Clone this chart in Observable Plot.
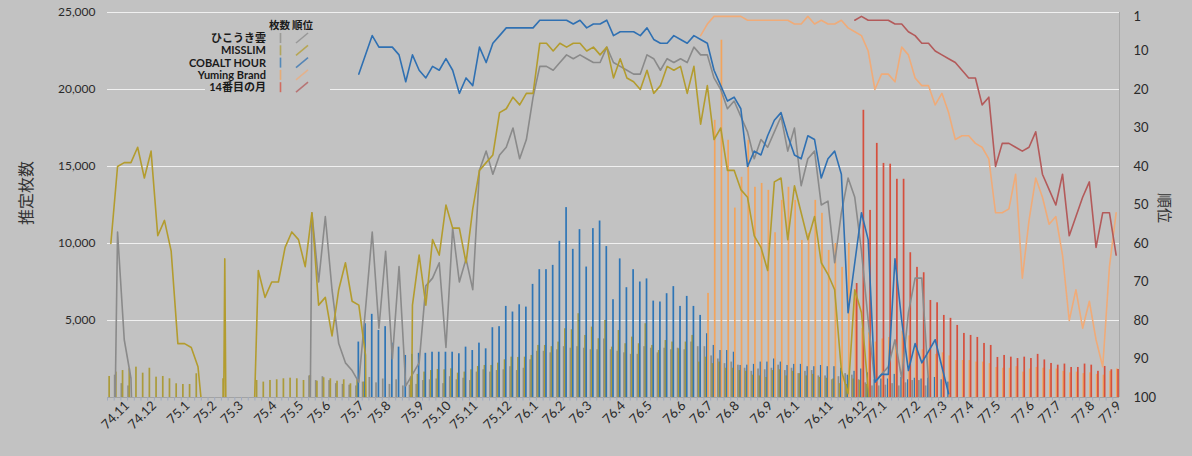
<!DOCTYPE html>
<html lang="ja">
<head>
<meta charset="utf-8">
<script src="https://cdn.jsdelivr.net/npm/d3@7"></script>
<script src="https://cdn.jsdelivr.net/npm/@observablehq/plot@0.6"></script>
<style>
html,body{margin:0;padding:0;background:#c2c2c2;}
#wrap{position:relative;width:1192px;height:456px;overflow:hidden;background:#c2c2c2;}
#wrap svg{position:absolute;left:0;top:0;}
</style>
</head>
<body>
<div id="wrap"></div>
<script>
// ---------- categories ----------
const albums = ["ひこうき雲", "MISSLIM", "COBALT HOUR", "Yuming Brand", "14番目の月"];
const barColors  = ["#8e8e88", "#ab9b3a", "#2e75b6", "#f3a45c", "#d64f3d"];
const lineColors = ["#8a8a8a", "#b39c2e", "#2f70b2", "#f0ab78", "#b35a5a"];

// month labels on the category axis and number of weekly charts in each month
const monthLabels  = ["", "74.11","74.12","75.1","75.2","75.3","75.4","75.5","75.6","75.7","75.8","75.9","75.10","75.11","75.12",
  "76.1","76.2","76.3","76.4","76.5","76.6","76.7","76.8","76.9","76.1","76.11","76.12",
  "77.1","77.2","77.3","77.4","77.5","77.6","77.7","77.8","77.9"];
const weeksInMonth = [2,4,5,4,4,5,4,4,5,4,5,4,4,5,4,4,4,5,4,5,4,4,5,4,5,5,3,5,4,4,4,5,4,5,4,1];

// right axis (順位) tick labels
const rankTicks = [1,10,20,30,40,50,60,70,80,90,100];
const salesTicks = [5000,10000,15000,20000,25000];

// ---------- weekly rank (順位); values above 100 = out of the top 100 (line runs below the axis) ----------
const hikoRankA = [180, 57, 85, 95, 160];                       // from week 0
const hikoRankB = [250, 52, 70, 53, 72, 86, 91, 93, 96, 77, 57, 82, 62, 90, 66, 97, 94, 91, 71, 69, 65, 87, 56, 70, 64, 72,
  41, 36, 42, 37, 35, 30, 38, 33, 22, 14, 14, 15, 13, 11, 12, 11, 12, 13, 13, 9, 13, 14, 15, 16, 16, 11, 12, 15, 12, 13, 12, 13,
  9, 11, 11, 17, 20, 25, 23, 27, 31, 38, 33, 35, 31, 27, 36, 30, 45, 38, 36, 50, 49, 65, 52, 43, 48, 62, 80, 96, 94, 92, 85,
  95, 78, 69, 69, 96, 160];                                      // from week 29
const misslimRankA = [60, 40, 39, 39, 35, 43, 36, 58, 54, 62, 86, 86, 87, 92, 110];   // from week 0
const misslimRankB = [300, 64, 300];                                                 // from week 16
const misslimRankC = [128, 67, 74, 70, 70, 61, 57, 59, 66, 52, 76, 74, 84, 72, 65, 75, 76, 89, 300]; // from week 21
const misslimRankD = [300, 76, 63, 76, 59, 63, 50, 56, 56, 65, 51, 41, 39, 37, 26, 25, 22, 24, 21, 21, 8, 8, 10, 8, 9, 8, 8,
  10, 9, 11, 9, 17, 12, 17, 18, 20, 15, 21, 19, 14, 15, 14, 21, 14, 29, 19, 33, 30, 41, 41, 46, 48, 58, 61, 67, 44, 43, 59,
  45, 52, 59, 53, 65, 68, 72, 93, 99, 72, 78, 98, 130];        // from week 44
const cobaltRank = [16, 11, 6, 9, 9, 9, 11, 18, 11, 15, 17, 14, 15, 12, 15, 21, 17, 19, 9, 13, 8, 6, 4, 4, 4, 4, 4, 2, 2, 2,
  2, 2, 3, 2, 4, 3, 3, 2, 6, 5, 5, 5, 6, 4, 7, 8, 8, 6, 7, 8, 6, 7, 8, 15, 19, 23, 22, 25, 40, 36, 37, 32, 28, 26, 32, 37,
  38, 32, 33, 43, 38, 36, 42, 78, 65, 52, 59, 96, 94, 94, 64, 80, 93, 86, 91, 88, 85, 92, 99];  // from week 37
const brandRank = [6, 3, 1, 1, 1, 1, 1, 2, 2, 2, 2, 2, 2, 2, 3, 3, 1, 3, 2, 3, 3, 2, 4, 5, 6, 10, 20, 16, 16, 18, 9, 11, 17,
  19, 19, 24, 21, 26, 33, 32, 32, 34, 35, 38, 52, 52, 51, 42, 69, 54, 43, 48, 55, 53, 63, 80, 72, 82, 75, 85, 92, 66, 52]; // from week 88
const moonRank = [2, 1, 2, 2, 2, 2, 3, 3, 5, 6, 8, 8, 10, 11, 12, 13, 15, 17, 17, 24, 22, 40, 34, 34, 35, 36, 35, 31, 42, 46,
  50, 42, 58, 53, 48, 44, 61, 52, 52, 63];                       // from week 111

// ---------- weekly estimated sales (推定枚数) ----------
const hikoSalesA = [1450, 900, 750];                             // from week 1
const hikoSalesB = [1400, 1100, 1350, 1100, 900, 850, 800, 750, 1000, 1300, 950, 1200, 850, 1150, 750, 800, 850, 1100, 1150,
  1200, 900, 1350, 1150, 1250, 1100, 1650, 1800, 1650, 1750, 1800, 2000, 1750, 1900, 2450, 3000, 3000, 2900, 3100, 3300, 3200,
  3300, 3200, 3100, 3100, 3800, 3100, 3000, 2900, 2800, 2800, 3300, 3200, 2900, 3200, 3100, 3200, 3100, 3600, 3300, 3300,
  2700, 2500, 2200, 2300, 2100, 1900, 1700, 1850, 1800, 1900, 2100, 1750, 1900, 1550, 1700, 1750, 1400, 1400, 1150, 1350,
  1550, 1450, 1150, 950, 750, 750, 800, 900, 750, 950, 1100, 1100, 750];   // from week 30
const misslimSalesA = [1365, 1650, 1750, 1865, 1970, 1580, 1900, 1320, 1365, 1215, 890, 845, 845, 1540]; // from week 0
const misslimSalesB = [1215];                                    // week 17
const misslimSalesC = [1105, 1000, 1105, 1150, 1215, 1255, 1215, 1105, 1430, 1060, 1280, 1215, 1060, 1150, 890, 1150, 1000]; // from week 22
const misslimSalesD = [1320, 1500, 1650, 1750, 1820, 1800, 1865, 1580, 1650, 1800, 2015, 2080, 2080, 2230, 2450, 2620, 2600,
  2620, 2730, 3380, 3380, 3300, 3600, 4465, 4400, 5440, 4030, 4570, 3815, 5000, 3270, 4350, 3490, 3920, 3490, 4790, 3380, 3050,
  3700, 3600, 3160, 3600, 4030, 2300, 2620, 2200, 2300, 1900, 1900, 1750, 1700, 1450, 1400, 1300, 1750, 1800, 1400, 1700,
  1550, 1400, 1500, 1300, 1250, 1200, 900, 850, 1200, 1100, 850]; // from week 45
const cobaltSales = [3600, 4790, 5400, 4350, 4600, 3530, 3270, 2730, 2800, 2870, 2870, 2940, 2940, 2940, 2940, 2840, 3270,
  3050, 3530, 3160, 4530, 4600, 5915, 5550, 6020, 5870, 7345, 8300, 8300, 8580, 10140, 12330, 9620, 10900, 8470, 10965, 11460,
  9800, 6350, 9000, 7130, 8300, 7500, 7700, 6260, 6200, 6740, 7200, 5915, 6565, 5915, 5330, 4140, 3380, 3050, 3050, 2940,
  2080, 2100, 2150, 2300, 2300, 2500, 2300, 2080, 2150, 2150, 2000, 2000, 2080, 2000, 2000, 1900, 1450, 1700, 1850, 1600,
  1150, 1200, 1200, 1500, 1300, 1150, 1250, 1200, 1250, 1300, 1150, 1000];   // from week 37
const brandSales = [6760, 18000, 23200, 16700, 12300, 14300, 16700, 13650, 13900, 13450, 10700, 12800, 13650, 12800, 10200,
  10660, 12800, 11960, 9550, 10000, 8450, 10000, 6950, 4500, 4200, 3600, 3800, 3900, 3700, 4300, 4000, 3400, 3100, 3000, 2800,
  2900, 2700, 2400, 2400, 2400, 2300, 2300, 2200, 1950, 1900, 1900, 2000, 1650, 1850, 1950, 1900, 1800, 1850, 1700, 1600,
  1650, 1550, 1600, 1500, 1450, 1700, 1850];                    // from week 89
const moonSales = [7400, 18650, 12150, 16500, 15200, 15150, 14170, 14170, 9400, 8450, 8100, 6300, 6150, 5330, 5140, 4680,
  4160, 4030, 3900, 3510, 3380, 2600, 2730, 2620, 2530, 2620, 2530, 2800, 2440, 2210, 2100, 2170, 1950, 1950, 2170, 2100,
  1700, 2015, 1800, 1820];                                      // from week 111

// [album index, first week, values]
const rankSegments = [[0,0,hikoRankA],[0,29,hikoRankB],[1,0,misslimRankA],[1,16,misslimRankB],[1,21,misslimRankC],
  [1,44,misslimRankD],[2,37,cobaltRank],[3,88,brandRank],[4,111,moonRank]];
const salesSegments = [[0,1,hikoSalesA],[0,30,hikoSalesB],[1,0,misslimSalesA],[1,17,misslimSalesB],[1,22,misslimSalesC],
  [1,45,misslimSalesD],[2,37,cobaltSales],[3,89,brandSales],[4,111,moonSales]];

// ---------- build tables ----------
const nWeeks = d3.sum(weeksInMonth);
const weeks = d3.range(nWeeks);
const labelByWeek = new Map();
{ let w = 0; monthLabels.forEach((m, k) => { if (m) labelByWeek.set(w, m); w += weeksInMonth[k]; }); }
const labelWeeks = [...labelByWeek.keys()];

const rankRows = rankSegments.flatMap(([s, start, vals], seg) =>
  vals.map((r, j) => ({s, seg, week: start + j, rank: r})));
const salesRows = salesSegments.flatMap(([s, start, vals]) =>
  vals.map((v, j) => ({s, week: start + j, sales: v})));

// rank axis (right) shares the vertical space: rank 0 at the top, 100 at the bottom
const rankToY = r => 25000 - 250 * r;

const FONT = "Lato, 'Noto Sans CJK JP', 'Noto Sans', sans-serif";
const bw = (1192 - 107 - 73) / nWeeks;
const barW = 1.7;
const offsets = [-2.4, -1.2, 0, 1.2, 2.4];

const marks = [
  Plot.gridY(salesTicks, {stroke: "#f2f2f2", strokeOpacity: 0.95, strokeWidth: 1})
];
albums.forEach((a, s) => {
  const pad = (bw - barW) / 2;
  marks.push(Plot.barY(salesRows.filter(d => d.s === s), {
    x: "week", y: "sales", fill: barColors[s],
    insetLeft: pad + offsets[s], insetRight: pad - offsets[s]
  }));
});
marks.push(Plot.ruleY([0], {stroke: "#a3a3a3"}));
marks.push(Plot.ruleX(weeks, {x: d => d, y1: 0, y2: -230, dx: -bw / 2, stroke: "#9eaac0", strokeWidth: 1}));
albums.forEach((a, s) => {
  marks.push(Plot.line(rankRows.filter(d => d.s === s), {
    x: "week", y: d => rankToY(d.rank), z: "seg", stroke: lineColors[s],
    strokeWidth: 1.6, clip: true
  }));
});
marks.push(Plot.axisY(salesTicks, {anchor: "left", tickSize: 0, tickPadding: 12, fontSize: 12,
  tickFormat: d3.format(","), label: null}));
marks.push(Plot.axisY(rankTicks.map(rankToY), {anchor: "right", tickSize: 0, tickPadding: 14, fontSize: 13,
  tickFormat: v => String(Math.round((25000 - v) / 250)), label: null}));
marks.push(Plot.axisX(labelWeeks, {anchor: "bottom", tickSize: 0, tickPadding: 6, tickRotate: -45, fontSize: 13,
  dx: 3, tickFormat: w => labelByWeek.get(w), label: null}));

const chart = Plot.plot({
  width: 1192, height: 456,
  marginTop: 12, marginBottom: 59, marginLeft: 107, marginRight: 73,
  style: {background: "transparent", fontFamily: FONT, color: "#2a2a2a", overflow: "visible"},
  x: {type: "band", domain: weeks, padding: 0},
  y: {domain: [0, 25000]},
  marks
});
document.getElementById("wrap").append(chart);

// ---------- overlay: axis titles, right axis line, legend ----------
const ov = d3.select("#wrap").append("svg").attr("width", 1192).attr("height", 456)
  .style("pointer-events", "none").style("font-family", FONT);
ov.append("line").attr("x1", 1119.5).attr("x2", 1119.5).attr("y1", 12).attr("y2", 397)
  .attr("stroke", "#a8a8a8");
ov.append("text").attr("transform", "translate(28,193) rotate(-90)").attr("text-anchor", "middle")
  .attr("dominant-baseline", "middle").attr("font-size", 16).attr("fill", "#333")
  .style("font-family", "'Noto Sans CJK JP', sans-serif").text("推定枚数");
ov.append("text").attr("transform", "translate(1163,208) rotate(90)").attr("text-anchor", "middle")
  .attr("dominant-baseline", "middle").attr("font-size", 15).attr("fill", "#333")
  .style("font-family", "'Noto Sans CJK JP', sans-serif").text("順位");

const lg = ov.append("g");
lg.append("rect").attr("x", 205).attr("y", 16).attr("width", 125).attr("height", 77).attr("fill", "#c2c2c2");
lg.append("text").attr("x", 269).attr("y", 29).attr("font-size", 10.5).attr("font-weight", "bold")
  .attr("fill", "#1a1a1a").style("font-family", "'Noto Sans CJK JP', sans-serif").text("枚数");
lg.append("text").attr("x", 292).attr("y", 29).attr("font-size", 10.5).attr("font-weight", "bold")
  .attr("fill", "#1a1a1a").style("font-family", "'Noto Sans CJK JP', sans-serif").text("順位");
albums.forEach((a, s) => {
  const cy = 38 + s * 12.3;
  lg.append("text").attr("x", 266).attr("y", cy + 4).attr("text-anchor", "end").attr("font-size", 11)
    .attr("font-weight", "bold").attr("fill", "#1a1a1a").text(a);
  lg.append("line").attr("x1", 280.5).attr("x2", 280.5).attr("y1", cy - 5).attr("y2", cy + 5)
    .attr("stroke", barColors[s]).attr("stroke-width", 1.6).attr("stroke-opacity", 0.75);
  lg.append("line").attr("x1", 296).attr("x2", 308).attr("y1", cy + 5).attr("y2", cy - 5)
    .attr("stroke", lineColors[s]).attr("stroke-width", 1.5).attr("stroke-opacity", 0.75);
});
</script>
</body>
</html>
